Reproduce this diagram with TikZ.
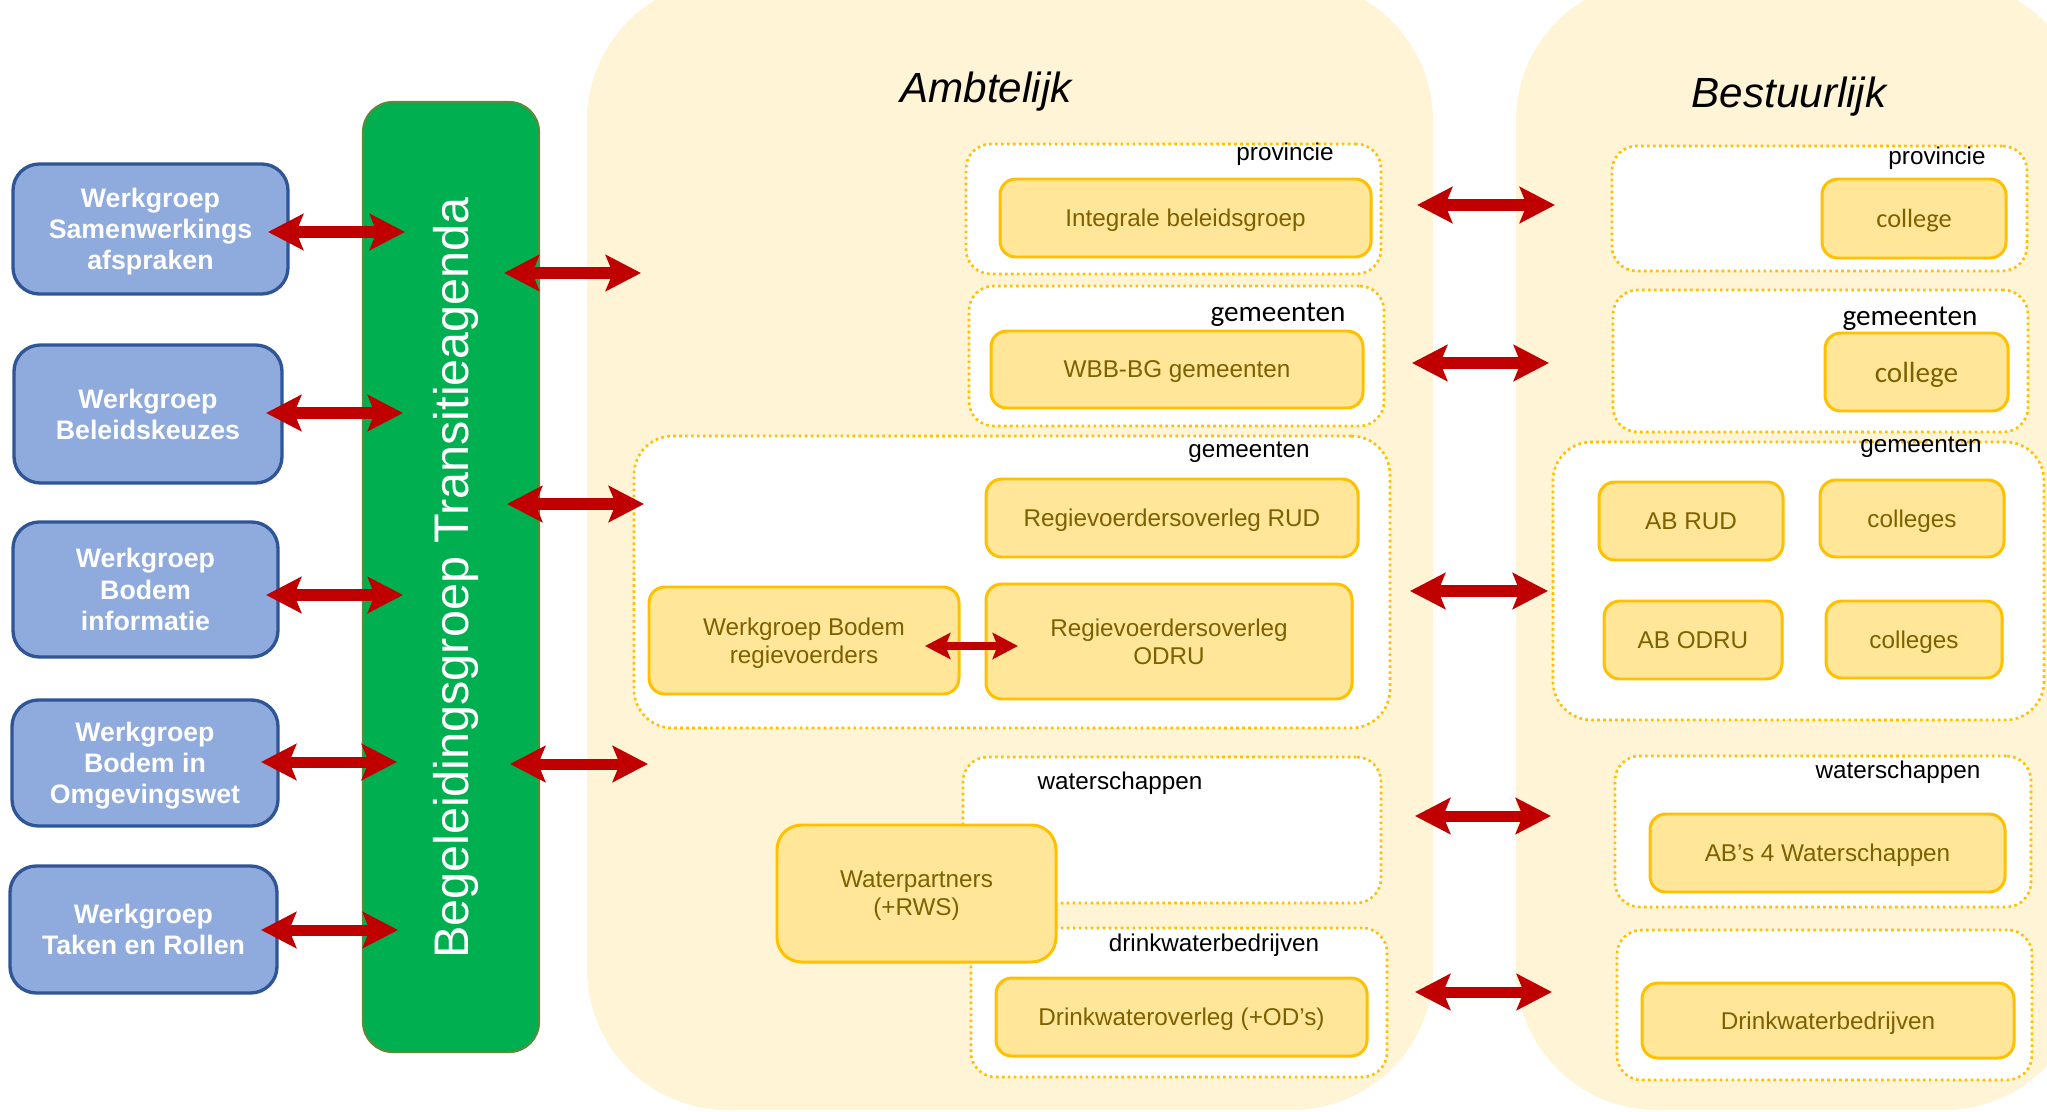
\documentclass[tikz,border=0pt]{standalone}
\usepackage{fontspec}
\setmainfont{Liberation Sans}
\newfontfamily\calib{Carlito}
\usetikzlibrary{arrows.meta}
\definecolor{panelc}{HTML}{FFF4D6}
\definecolor{ylw}{HTML}{FFE699}
\definecolor{gold}{HTML}{FFC000}
\definecolor{ytext}{HTML}{7F6000}
\definecolor{bfill}{HTML}{8FAADC}
\definecolor{bborder}{HTML}{2F5597}
\definecolor{gfill}{HTML}{00B050}
\definecolor{gborder}{HTML}{5B8A3C}
\definecolor{arrred}{HTML}{C00000}
\tikzset{
  panelbg/.style={fill=panelc, rounded corners=40pt},
  ybox/.style={draw=gold, fill=ylw, line width=0.85pt, rounded corners=4.5pt, inner sep=0pt, text depth=0pt, text=ytext, align=center, font=\fontsize{6.9}{7.9}\selectfont},
  grp/.style={draw=gold, fill=white, line width=0.75pt, dash pattern=on 0.75pt off 0.95pt, rounded corners=7pt, inner sep=0pt},
  bbox/.style={draw=bborder, fill=bfill, line width=0.95pt, rounded corners=7.5pt, inner sep=0pt, text depth=0pt, text=white, align=center, font=\fontsize{7.6}{8.9}\selectfont\bfseries},
  gbar/.style={draw=gborder, fill=gfill, line width=0.6pt, rounded corners=8.5pt, inner sep=0pt},
  lbl/.style={inner sep=0pt, anchor=base, font=\fontsize{6.9}{8}\selectfont},
  clbl/.style={inner sep=0pt, anchor=base, font=\calib\fontsize{8.3}{10}\selectfont},
  ttl/.style={inner sep=0pt, anchor=base, font=\fontsize{12}{14}\selectfont\itshape},
  bigarr/.style={draw=arrred, line width=3.13pt, arrows={Stealth[length=10pt,width=10.2pt,inset=2pt]-Stealth[length=10pt,width=10.2pt,inset=2pt]}},
  smallarr/.style={draw=arrred, line width=2.4pt, arrows={Stealth[length=7.2pt,width=7.4pt,inset=1.4pt]-Stealth[length=7.2pt,width=7.4pt,inset=1.4pt]}},
}
% box: style, name, x1, y1, x2, y2, text
\newcommand\bx[7]{\node[#1, minimum width={(#5-#3)*0.01cm}, minimum height={(#6-#4)*0.01cm}] (#2) at ({(#3+#5)/2},{(#4+#6)/2}) {#7};}
\begin{document}
\begin{tikzpicture}[x=0.01cm,y=-0.01cm]
\useasboundingbox (0,0) rectangle (2047,1112);
\clip (0,0) rectangle (2047,1112);

% panels
\path[panelbg] (587,-20) rectangle (1433,1110);
\path[panelbg] (1516,-20) rectangle (2085,1110);
\node[ttl] (tA) at (986,103) {Ambtelijk};
\node[ttl] (tB) at (1789,107) {Bestuurlijk};

% green bar
\bx{gbar}{bg}{363}{102}{539}{1052}{}
\node[rotate=90, anchor=base, inner sep=0pt, text=white, font=\fontsize{13.8}{15}\selectfont] (bgt) at (468,578) {Begeleidingsgroep Transitieagenda};

% blue boxes
\bx{bbox}{w1}{13}{164}{288}{294}{Werkgroep\\Samenwerkings\\afspraken}
\bx{bbox}{w2}{14}{345}{282}{483}{Werkgroep\\Beleidskeuzes}
\bx{bbox}{w3}{13}{522}{278}{657}{Werkgroep\\Bodem\\informatie}
\bx{bbox}{w4}{12}{700}{278}{826}{Werkgroep\\Bodem in\\Omgevingswet}
\bx{bbox}{w5}{10}{866}{277}{993}{Werkgroep\\Taken en Rollen}

% Ambtelijk groups
\bx{grp}{g1}{966}{144}{1381}{274}{}
\node[lbl] (g1l) at (1285,160) {provincie};
\bx{ybox}{ib}{1000}{179}{1371}{257}{Integrale beleidsgroep}

\bx{grp}{g2}{969}{286}{1384}{426}{}
\node[clbl] (g2l) at (1278,321) {gemeenten};
\bx{ybox}{wbb}{991}{331}{1363}{408}{WBB-BG gemeenten}

\bx{grp, rounded corners=11pt}{g3}{634}{436}{1390}{728}{}
\node[lbl] (g3l) at (1249,457) {gemeenten};
\bx{ybox}{rud}{986}{479}{1358}{557}{Regievoerdersoverleg RUD}
\bx{ybox}{wbr}{649}{587}{959}{694}{Werkgroep Bodem\\regievoerders}
\bx{ybox}{odru}{986}{584}{1352}{699}{Regievoerdersoverleg\\ODRU}

\bx{grp}{g4}{963}{757}{1381}{903}{}
\node[lbl] (g4l) at (1120,789) {waterschappen};
\bx{grp}{g5}{971}{928}{1387}{1077}{}
\node[lbl] (g5l) at (1214,951) {drinkwaterbedrijven};
\bx{ybox}{dwo}{996}{978}{1367}{1056}{Drinkwateroverleg (+OD’s)}
\bx{ybox, rounded corners=7pt}{wp}{777}{825}{1056}{962}{Waterpartners\\(+RWS)}

% Bestuurlijk groups
\bx{grp}{h1}{1612}{146}{2027}{271}{}
\node[lbl] (h1l) at (1937,164) {provincie};
\bx{ybox, font=\calib\fontsize{7.5}{9}\selectfont}{col1}{1822}{179}{2006}{258}{college}

\bx{grp}{h2}{1613}{290}{2028}{432}{}
\node[clbl] (h2l) at (1910,325) {gemeenten};
\bx{ybox, font=\calib\fontsize{8.3}{10}\selectfont}{col2}{1825}{333}{2008}{411}{college}

\bx{grp, rounded corners=11pt}{h3}{1553}{442}{2044}{720}{}
\node[lbl] (h3l) at (1921,452) {gemeenten};
\bx{ybox}{abrud}{1599}{482}{1783}{560}{AB RUD}
\bx{ybox}{cols1}{1820}{480}{2004}{557}{colleges}
\bx{ybox}{abodru}{1604}{601}{1782}{679}{AB ODRU}
\bx{ybox}{cols2}{1826}{601}{2002}{678}{colleges}

\bx{grp}{h4}{1615}{756}{2031}{907}{}
\node[lbl] (h4l) at (1898,778) {waterschappen};
\bx{ybox}{abw}{1650}{814}{2005}{892}{AB’s 4 Waterschappen}

\bx{grp}{h5}{1617}{930}{2032}{1080}{}
\bx{ybox}{dwb}{1642}{983}{2014}{1058}{Drinkwaterbedrijven}

% arrow end points
\coordinate (a1L) at (268,232); \coordinate (a1R) at (405,232);
\coordinate (a2L) at (266,413); \coordinate (a2R) at (403,413);
\coordinate (a3L) at (266,595); \coordinate (a3R) at (403,595);
\coordinate (a4L) at (261,762); \coordinate (a4R) at (397,762);
\coordinate (a5L) at (261,930); \coordinate (a5R) at (398,930);
\coordinate (b1L) at (504,273); \coordinate (b1R) at (641,273);
\coordinate (b2L) at (507,504); \coordinate (b2R) at (644,504);
\coordinate (b3L) at (510,764); \coordinate (b3R) at (648,764);
\coordinate (c1L) at (1417,205); \coordinate (c1R) at (1555,205);
\coordinate (c2L) at (1412,363); \coordinate (c2R) at (1549,363);
\coordinate (c3L) at (1410,591); \coordinate (c3R) at (1548,591);
\coordinate (c4L) at (1415,816); \coordinate (c4R) at (1551,816);
\coordinate (c5L) at (1415,992); \coordinate (c5R) at (1552,992);
\coordinate (dL) at (925,646); \coordinate (dR) at (1018,646);

\foreach \n in {a1,a2,a3,a4,a5,b1,b2,b3,c1,c2,c3,c4,c5}
  \draw[bigarr] (\n L) -- (\n R);
\draw[smallarr] (dL) -- (dR);
\end{tikzpicture}
\end{document}
